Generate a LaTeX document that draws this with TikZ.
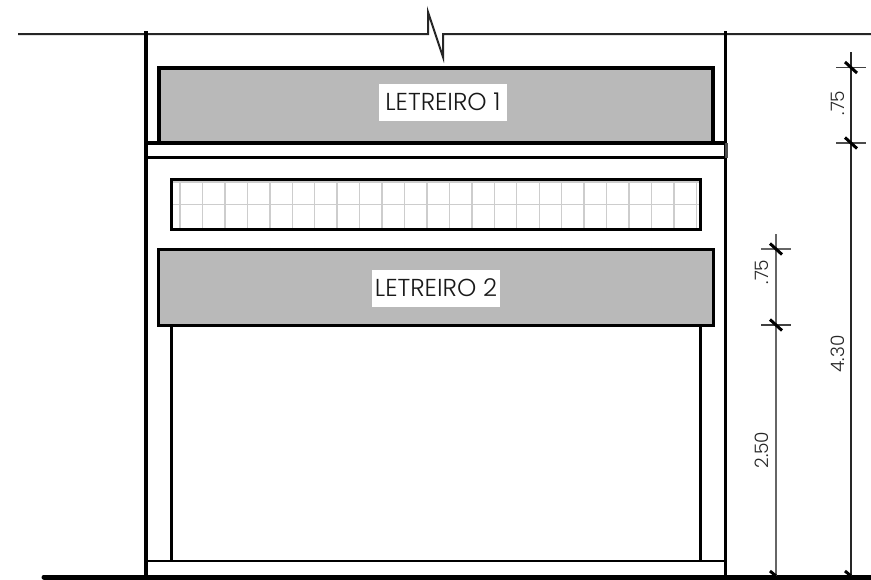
\documentclass[tikz,border=0pt]{standalone}
\usepackage{fontspec}
\setmainfont{Poppins}[UprightFont=* Light]
\definecolor{signgray}{RGB}{185,185,185}
\definecolor{gridgray}{RGB}{205,205,205}
\definecolor{inkblack}{RGB}{0,0,0}
\tikzset{
  wall/.style={line width=3.2pt,draw=inkblack},
  thinwall/.style={line width=3pt,draw=inkblack},
  signbox/.style={line width=4pt,draw=inkblack,fill=signgray},
  gridline/.style={line width=1.4pt,draw=gridgray},
  dimline/.style={line width=1.3pt,draw=black!85},
  extline/.style={line width=1.2pt,draw=black!75},
  ticklabel/.style={line width=3pt,draw=inkblack},
  signlabel/.style={fill=white,font=\fontsize{24.5}{24.5}\selectfont,text=black!90,inner sep=0pt,minimum height=37pt,minimum width=128pt},
  dimlabel/.style={rotate=90,font=\fontsize{18.5}{18.5}\selectfont,text=black!85,inner sep=0pt}
}
\begin{document}
\begin{tikzpicture}[x=1pt,y=-1pt]
\useasboundingbox[fill=white] (0,0) rectangle (871,579);
% top break line
\draw[line width=2pt,draw=black!85,line join=miter] (18,34) -- (428,34) -- (428,12) -- (443,57) -- (443,34) -- (871,34);
% signs
\draw[signbox] (158.5,67.5) rectangle (713,143);
\draw[line width=3pt,fill=signgray] (158,249) rectangle (713,325);
% walls
\draw[wall] (146,31) -- (146,576);
\draw[wall] (725.5,31) -- (725.5,576);
% band
\draw[line width=4pt] (146,143) -- (725.5,143);
\draw[line width=3pt] (146,157.5) -- (725.5,157.5);
\draw[line width=3.5pt] (145.5,141) -- (145.5,159);
\draw[line width=3pt,draw=black!70] (726,143) -- (726,158);
% grille
\foreach \n in {0,...,23} {\draw[gridline] ({180+22.45*\n},180) -- ({180+22.45*\n},228);}
\draw[gridline] (171,182) -- (700,182);
\draw[gridline] (171,204.5) -- (700,204.5);
\draw[line width=3pt] (171,179) rectangle (700.5,229);
% door
\draw[thinwall] (171,325) -- (171,561);
\draw[thinwall] (700.5,325) -- (700.5,561);
\draw[line width=2.6pt] (146,561) -- (725.5,561);
% ground
\draw[line width=5pt,line cap=round] (44,577) -- (871,577);
% labels
\node[signlabel] (sign1) at (443,102) {LETREIRO 1};
\node[signlabel] (sign2) at (436,288) {LETREIRO 2};
% dimensions
\coordinate (d1top) at (851,52);
\coordinate (d1bot) at (851,576);
\coordinate (d2top) at (776,234);
\coordinate (d2bot) at (776,576);
\draw[dimline] (d1top) -- (d1bot);
\draw[line width=1.4pt,draw=black!60] (d2top) -- (d2bot);
\draw[extline] (836,67.5) -- (866,67.5);
\draw[line width=1.6pt,draw=black!70] (836,143) -- (866,143);
\draw[line width=1.4pt,draw=black!60] (761,249) -- (791,249);
\draw[extline] (761,325) -- (791,325);
\foreach \x/\y in {851/67.5,851/143,776/249,776/325} {
  \draw[ticklabel] (\x-6,\y-5.5) -- (\x+6,\y+5.5);
}
\draw[ticklabel] (770,571) -- (776,576);
\draw[ticklabel] (845,571) -- (851,576);
\node[dimlabel] (a) at (838,103) {.75};
\node[dimlabel] (b) at (838,354) {4.30};
\node[dimlabel] (c) at (762,272) {.75};
\node[dimlabel] (d) at (762,450) {2.50};
\end{tikzpicture}
\end{document}
